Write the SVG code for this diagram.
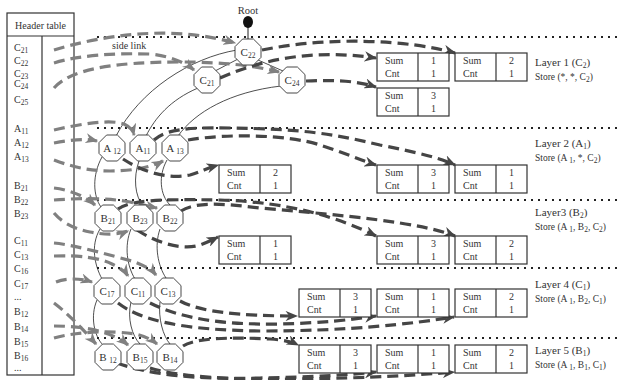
<svg xmlns="http://www.w3.org/2000/svg" xmlns:xlink="http://www.w3.org/1999/xlink" width="620" height="380" viewBox="0 0 620 380">
<style>
text{font-family:"Liberation Serif","Times New Roman",serif;fill:#333}
.ht{font-size:10px}
.lbl{font-size:11px}
.st{font-size:9.5px}
.bx{font-size:10px}
.nd{font-size:11px;text-anchor:middle}
.sub{font-size:7.5px}
.dot{stroke:#222;stroke-width:2;stroke-dasharray:2 5;fill:none}
.tree{stroke:#222;stroke-width:0.8;fill:none}
.dk{stroke:#454545;stroke-width:3.2;stroke-dasharray:11 6;fill:none;marker-end:url(#ad)}
.gr{stroke:#808080;stroke-width:3.2;stroke-dasharray:11 6;fill:none;marker-end:url(#ag)}
</style>
<defs>
<marker id="ad" viewBox="0 0 10 8" refX="9" refY="4" markerWidth="4" markerHeight="3.2" orient="auto" markerUnits="strokeWidth"><path d="M0,0 L10,4 L0,8 L3,4 z" fill="#454545"/></marker>
<marker id="ag" viewBox="0 0 10 8" refX="9" refY="4" markerWidth="4" markerHeight="3.2" orient="auto" markerUnits="strokeWidth"><path d="M0,0 L10,4 L0,8 L3,4 z" fill="#808080"/></marker>
<polygon id="oct" fill="#fff" stroke="#333" stroke-width="0.9" points="13,5.4 5.4,13 -5.4,13 -13,5.4 -13,-5.4 -5.4,-13 5.4,-13 13,-5.4"/>
<g id="cell"><rect x="0" y="0" width="72" height="28" fill="#fff" stroke="#333" stroke-width="1.2"/><line x1="41" y1="0" x2="41" y2="28" stroke="#333" stroke-width="1.2"/></g>
</defs>

<!-- header table -->
<g id="header-table">
<rect x="7" y="13" width="67" height="362" fill="#fff" stroke="#333" stroke-width="1.2"/>
<line x1="7" y1="36" x2="74" y2="36" stroke="#333" stroke-width="1.2"/>
<line x1="42" y1="36" x2="42" y2="375" stroke="#333" stroke-width="1.2"/>
<text class="ht" x="40.5" y="29" text-anchor="middle">Header table</text>
<g class="ht">
<text x="14" y="51">C<tspan class="sub" dy="2">21</tspan></text>
<text x="14" y="64">C<tspan class="sub" dy="2">22</tspan></text>
<text x="14" y="77">C<tspan class="sub" dy="2">23</tspan></text>
<text x="14" y="87">C<tspan class="sub" dy="2">24</tspan></text>
<text x="14" y="103">C<tspan class="sub" dy="2">25</tspan></text>
<text x="14" y="132">A<tspan class="sub" dy="2">11</tspan></text>
<text x="14" y="146">A<tspan class="sub" dy="2">12</tspan></text>
<text x="14" y="160">A<tspan class="sub" dy="2">13</tspan></text>
<text x="14" y="189">B<tspan class="sub" dy="2">21</tspan></text>
<text x="14" y="203">B<tspan class="sub" dy="2">22</tspan></text>
<text x="14" y="217">B<tspan class="sub" dy="2">23</tspan></text>
<text x="14" y="244">C<tspan class="sub" dy="2">11</tspan></text>
<text x="14" y="258">C<tspan class="sub" dy="2">13</tspan></text>
<text x="14" y="272">C<tspan class="sub" dy="2">16</tspan></text>
<text x="14" y="287">C<tspan class="sub" dy="2">17</tspan></text>
<text x="14" y="300">...</text>
<text x="14" y="315">B<tspan class="sub" dy="2">12</tspan></text>
<text x="14" y="330">B<tspan class="sub" dy="2">14</tspan></text>
<text x="14" y="345">B<tspan class="sub" dy="2">15</tspan></text>
<text x="14" y="359">B<tspan class="sub" dy="2">16</tspan></text>
<text x="14" y="371">...</text>
</g>
</g>

<!-- layer separators -->
<g id="separators">
<line class="dot" x1="97" y1="37" x2="618" y2="37"/>
<line class="dot" x1="97" y1="128" x2="618" y2="128"/>
<line class="dot" x1="97" y1="200" x2="618" y2="200"/>
<line class="dot" x1="97" y1="268" x2="618" y2="268"/>
<line class="dot" x1="97" y1="338" x2="618" y2="338"/>
</g>

<!-- root -->
<g id="root">
<text x="248" y="14" text-anchor="middle" style="font-size:10.5px">Root</text>
<line x1="248" y1="24" x2="248" y2="40" stroke="#222" stroke-width="1"/>
<ellipse cx="248" cy="22" rx="5" ry="6" fill="#111"/>
</g>

<g id="connectors">
<!-- tree edges -->
<path class="tree" d="M237 50 C 190 58, 140 90, 116 136"/>
<path class="tree" d="M238 59 L 215 71"/>
<path class="tree" d="M258 60 L 283 71"/>
<path class="tree" d="M198 88 C 170 100, 155 118, 146 136"/>
<path class="tree" d="M281 86 C 230 92, 195 112, 178 136"/>
<path class="tree" d="M102 157 C 92 175, 93 196, 101 207"/>
<path class="tree" d="M139 161 C 133 178, 135 196, 143 206"/>
<path class="tree" d="M167 160 C 158 176, 160 195, 170 205"/>
<path class="tree" d="M100 229 C 90 246, 95 266, 102 279"/>
<path class="tree" d="M131 229 C 124 246, 127 266, 135 279"/>
<path class="tree" d="M160 229 C 154 246, 158 266, 166 278"/>
<path class="tree" d="M97 300 C 90 316, 94 336, 103 345"/>
<path class="tree" d="M131 302 C 127 318, 132 336, 140 344"/>
<path class="tree" d="M160 302 C 158 318, 163 336, 170 344"/>

<!-- side links (gray) -->
<path class="gr" d="M54 50 C 100 36, 170 24, 235 43"/>
<path class="gr" d="M54 63 C 80 55, 115 53, 150 54 C 170 56, 184 62, 194 70"/>
<path class="gr" d="M54 88 C 70 70, 110 62, 180 62 C 225 62, 256 66, 279 72"/>
<path class="gr" d="M54 130 C 80 124, 110 119, 124 124 C 130 127, 133 131, 134 135"/>
<path class="gr" d="M54 143 C 70 140, 85 138, 97 141"/>
<path class="gr" d="M54 160 C 70 166, 88 171, 110 171 C 130 171, 150 168, 163 161"/>
<path class="gr" d="M54 188 C 70 190, 85 196, 95 205"/>
<path class="gr" d="M54 200 C 80 198, 110 198, 130 202 C 145 205, 152 207, 157 208"/>
<path class="gr" d="M54 213 C 60 220, 70 228, 90 232 C 105 235, 118 235, 128 231"/>
<path class="gr" d="M54 243 C 75 245, 110 255, 135 262 C 145 266, 152 270, 156 275"/>
<path class="gr" d="M54 256 C 80 255, 100 258, 112 264 C 120 268, 125 271, 128 276"/>
<path class="gr" d="M56 282 C 66 278, 80 278, 92 282"/>
<path class="gr" d="M54 303 C 66 312, 80 326, 96 344"/>
<path class="gr" d="M54 326 C 80 326, 110 330, 128 345"/>
<path class="gr" d="M54 338 C 75 332, 110 330, 135 334 C 145 336, 152 340, 157 344"/>

<!-- node-to-cell links (dark) -->
<path class="dk" d="M262 50 C 330 36, 410 40, 455 53"/>
<path class="dk" d="M220 78 C 270 56, 320 50, 376 58"/>
<path class="dk" d="M306 81 C 330 80, 355 80, 376 87"/>
<path class="dk" d="M123 159 C 140 170, 165 180, 190 175 C 200 172, 208 168, 218 165"/>
<path class="dk" d="M154 140 C 165 130, 185 127, 230 128 C 300 129, 330 133, 380 145 C 420 153, 440 158, 455 165"/>
<path class="dk" d="M188 140 C 230 133, 290 135, 320 145 C 345 153, 360 160, 376 165"/>
<path class="dk" d="M137 230 C 160 245, 185 250, 200 245 C 208 242, 212 240, 218 237"/>
<path class="dk" d="M118 209 C 130 200, 160 199, 220 200 C 290 202, 340 218, 376 236"/>
<path class="dk" d="M181 211 C 195 202, 220 203, 260 208 C 340 215, 420 222, 455 236"/>
<path class="dk" d="M180 301 C 200 312, 240 316, 297 316"/>
<path class="dk" d="M150 303 C 180 318, 220 325, 280 324 C 320 323, 350 320, 376 316"/>
<path class="dk" d="M118 303 C 140 320, 180 330, 260 331 C 350 331, 410 324, 454 317"/>
<path class="dk" d="M183 346 C 195 338, 230 337, 270 339 C 285 340, 292 342, 298 345"/>
<path class="dk" d="M117 363 C 150 375, 200 380, 260 378 C 310 377, 350 375, 376 372"/>
<path class="dk" d="M150 368 C 180 377, 230 380, 300 379 C 370 378, 420 375, 454 372"/>
</g>

<text x="112" y="49" style="font-size:10px">side link</text>

<!-- nodes -->
<g id="n-C22" transform="translate(248,52)"><use xlink:href="#oct"/><text class="nd" y="4">C<tspan class="sub" dy="2">22</tspan></text></g>
<g id="n-C21" transform="translate(207,80)"><use xlink:href="#oct"/><text class="nd" y="4">C<tspan class="sub" dy="2">21</tspan></text></g>
<g id="n-C24" transform="translate(292,80)"><use xlink:href="#oct"/><text class="nd" y="4">C<tspan class="sub" dy="2">24</tspan></text></g>
<g id="n-A12" transform="translate(112,148)"><use xlink:href="#oct"/><text class="nd" y="4">A <tspan class="sub" dy="2">12</tspan></text></g>
<g id="n-A11" transform="translate(143,148)"><use xlink:href="#oct"/><text class="nd" y="4">A<tspan class="sub" dy="2">11</tspan></text></g>
<g id="n-A13" transform="translate(175,148)"><use xlink:href="#oct"/><text class="nd" y="4">A <tspan class="sub" dy="2">13</tspan></text></g>
<g id="n-B21" transform="translate(108,218)"><use xlink:href="#oct"/><text class="nd" y="4">B<tspan class="sub" dy="2">21</tspan></text></g>
<g id="n-B23" transform="translate(140,218)"><use xlink:href="#oct"/><text class="nd" y="4">B<tspan class="sub" dy="2">23</tspan></text></g>
<g id="n-B22" transform="translate(170,218)"><use xlink:href="#oct"/><text class="nd" y="4">B<tspan class="sub" dy="2">22</tspan></text></g>
<g id="n-C17" transform="translate(107,291)"><use xlink:href="#oct"/><text class="nd" y="4">C<tspan class="sub" dy="2">17</tspan></text></g>
<g id="n-C11" transform="translate(138,291)"><use xlink:href="#oct"/><text class="nd" y="4">C<tspan class="sub" dy="2">11</tspan></text></g>
<g id="n-C13" transform="translate(168,291)"><use xlink:href="#oct"/><text class="nd" y="4">C<tspan class="sub" dy="2">13</tspan></text></g>
<g id="n-B12" transform="translate(108,357)"><use xlink:href="#oct"/><text class="nd" y="4">B <tspan class="sub" dy="2">12</tspan></text></g>
<g id="n-B15" transform="translate(140,357)"><use xlink:href="#oct"/><text class="nd" y="4">B<tspan class="sub" dy="2">15</tspan></text></g>
<g id="n-B14" transform="translate(170,357)"><use xlink:href="#oct"/><text class="nd" y="4">B<tspan class="sub" dy="2">14</tspan></text></g>

<!-- cells -->
<g class="bx">
<g id="c1a" transform="translate(377,53)"><use xlink:href="#cell"/><text x="8" y="11">Sum</text><text x="8" y="24">Cnt</text><text x="56.5" y="11" text-anchor="middle">1</text><text x="56.5" y="24" text-anchor="middle">1</text></g>
<g id="c1b" transform="translate(455,53)"><use xlink:href="#cell"/><text x="8" y="11">Sum</text><text x="8" y="24">Cnt</text><text x="56.5" y="11" text-anchor="middle">2</text><text x="56.5" y="24" text-anchor="middle">1</text></g>
<g id="c1c" transform="translate(377,88)"><use xlink:href="#cell"/><text x="8" y="11">Sum</text><text x="8" y="24">Cnt</text><text x="56.5" y="11" text-anchor="middle">3</text><text x="56.5" y="24" text-anchor="middle">1</text></g>
<g id="c2a" transform="translate(219,165)"><use xlink:href="#cell"/><text x="8" y="11">Sum</text><text x="8" y="24">Cnt</text><text x="56.5" y="11" text-anchor="middle">2</text><text x="56.5" y="24" text-anchor="middle">1</text></g>
<g id="c2b" transform="translate(377,165)"><use xlink:href="#cell"/><text x="8" y="11">Sum</text><text x="8" y="24">Cnt</text><text x="56.5" y="11" text-anchor="middle">3</text><text x="56.5" y="24" text-anchor="middle">1</text></g>
<g id="c2c" transform="translate(455,165)"><use xlink:href="#cell"/><text x="8" y="11">Sum</text><text x="8" y="24">Cnt</text><text x="56.5" y="11" text-anchor="middle">1</text><text x="56.5" y="24" text-anchor="middle">1</text></g>
<g id="c3a" transform="translate(219,236)"><use xlink:href="#cell"/><text x="8" y="11">Sum</text><text x="8" y="24">Cnt</text><text x="56.5" y="11" text-anchor="middle">1</text><text x="56.5" y="24" text-anchor="middle">1</text></g>
<g id="c3b" transform="translate(377,236)"><use xlink:href="#cell"/><text x="8" y="11">Sum</text><text x="8" y="24">Cnt</text><text x="56.5" y="11" text-anchor="middle">3</text><text x="56.5" y="24" text-anchor="middle">1</text></g>
<g id="c3c" transform="translate(455,236)"><use xlink:href="#cell"/><text x="8" y="11">Sum</text><text x="8" y="24">Cnt</text><text x="56.5" y="11" text-anchor="middle">2</text><text x="56.5" y="24" text-anchor="middle">1</text></g>
<g id="c4a" transform="translate(299,289)"><use xlink:href="#cell"/><text x="8" y="11">Sum</text><text x="8" y="24">Cnt</text><text x="56.5" y="11" text-anchor="middle">3</text><text x="56.5" y="24" text-anchor="middle">1</text></g>
<g id="c4b" transform="translate(377,289)"><use xlink:href="#cell"/><text x="8" y="11">Sum</text><text x="8" y="24">Cnt</text><text x="56.5" y="11" text-anchor="middle">1</text><text x="56.5" y="24" text-anchor="middle">1</text></g>
<g id="c4c" transform="translate(455,289)"><use xlink:href="#cell"/><text x="8" y="11">Sum</text><text x="8" y="24">Cnt</text><text x="56.5" y="11" text-anchor="middle">2</text><text x="56.5" y="24" text-anchor="middle">1</text></g>
<g id="c5a" transform="translate(299,345)"><use xlink:href="#cell"/><text x="8" y="11">Sum</text><text x="8" y="24">Cnt</text><text x="56.5" y="11" text-anchor="middle">3</text><text x="56.5" y="24" text-anchor="middle">1</text></g>
<g id="c5b" transform="translate(377,345)"><use xlink:href="#cell"/><text x="8" y="11">Sum</text><text x="8" y="24">Cnt</text><text x="56.5" y="11" text-anchor="middle">1</text><text x="56.5" y="24" text-anchor="middle">1</text></g>
<g id="c5c" transform="translate(455,345)"><use xlink:href="#cell"/><text x="8" y="11">Sum</text><text x="8" y="24">Cnt</text><text x="56.5" y="11" text-anchor="middle">2</text><text x="56.5" y="24" text-anchor="middle">1</text></g>
</g>

<!-- layer labels -->
<g id="layer-labels">
<text class="lbl" x="535" y="66">Layer 1 (C<tspan class="sub" dy="2">2</tspan><tspan dy="-2">)</tspan></text>
<text class="st" x="535" y="80">Store (*,  *, C<tspan class="sub" dy="2">2</tspan><tspan dy="-2">)</tspan></text>
<text class="lbl" x="535" y="147">Layer 2 (A<tspan class="sub" dy="2">1</tspan><tspan dy="-2">)</tspan></text>
<text class="st" x="535" y="161">Store (A <tspan class="sub" dy="2">1</tspan><tspan dy="-2">, *, C</tspan><tspan class="sub" dy="2">2</tspan><tspan dy="-2">)</tspan></text>
<text class="lbl" x="535" y="216">Layer3 (B<tspan class="sub" dy="2">2</tspan><tspan dy="-2">)</tspan></text>
<text class="st" x="535" y="230">Store (A <tspan class="sub" dy="2">1</tspan><tspan dy="-2">, B</tspan><tspan class="sub" dy="2">2</tspan><tspan dy="-2">, C</tspan><tspan class="sub" dy="2">2</tspan><tspan dy="-2">)</tspan></text>
<text class="lbl" x="535" y="288">Layer 4 (C<tspan class="sub" dy="2">1</tspan><tspan dy="-2">)</tspan></text>
<text class="st" x="535" y="302">Store (A <tspan class="sub" dy="2">1</tspan><tspan dy="-2">, B</tspan><tspan class="sub" dy="2">2</tspan><tspan dy="-2">, C</tspan><tspan class="sub" dy="2">1</tspan><tspan dy="-2">)</tspan></text>
<text class="lbl" x="535" y="354">Layer 5 (B<tspan class="sub" dy="2">1</tspan><tspan dy="-2">)</tspan></text>
<text class="st" x="535" y="368">Store (A <tspan class="sub" dy="2">1</tspan><tspan dy="-2">, B</tspan><tspan class="sub" dy="2">1</tspan><tspan dy="-2">, C</tspan><tspan class="sub" dy="2">1</tspan><tspan dy="-2">)</tspan></text>
</g>
</svg>
